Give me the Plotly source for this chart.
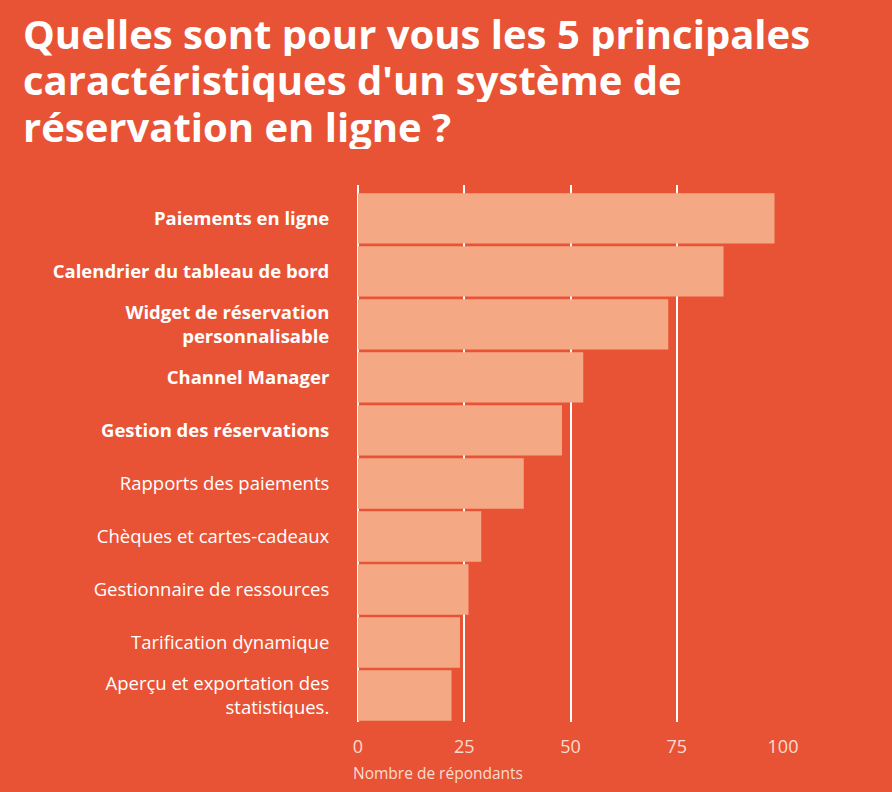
import plotly.graph_objects as go

categories = [
    "<b>Paiements en ligne</b>",
    "<b>Calendrier du tableau de bord</b>",
    "<b>Widget de réservation<br>personnalisable</b>",
    "<b>Channel Manager</b>",
    "<b>Gestion des réservations</b>",
    "Rapports des paiements",
    "Chèques et cartes-cadeaux",
    "Gestionnaire de ressources",
    "Tarification dynamique",
    "Aperçu et exportation des<br>statistiques.",
]
values = [98, 86, 73, 53, 48, 39, 29, 26, 24, 22]
x_ticks = [0, 25, 50, 75, 100]
title_lines = [
    "Quelles sont pour vous les 5 principales",
    "caractéristiques d'un système de",
    "réservation en ligne ?",
]

BG = "#E85336"
BAR = "#F4A984"
LIGHT = "#FBDCCF"

fig = go.Figure(go.Bar(
    x=values, y=categories, orientation="h",
    marker=dict(color=BAR, line=dict(width=0)),
    hoverinfo="skip",
))

W, H = 892, 792
left, right, top, bottom = 358, 109, 185, 70
plot_w = W - left - right
plot_h = H - top - bottom


def px_to_paper_x(px):
    return (px - left) / plot_w


def px_to_paper_y(py):
    return 1 + (top - py) / plot_h


annotations = []
for i, line in enumerate(title_lines):
    annotations.append(dict(
        text="<b>" + line + "</b>",
        xref="paper", yref="paper",
        x=px_to_paper_x(21), y=px_to_paper_y(33 + i * 46.5),
        xanchor="left", yanchor="middle",
        height=46, valign="middle",
        showarrow=False,
        font=dict(family="Open Sans", size=40, color="white"),
    ))

annotations.append(dict(
    text="Nombre de répondants",
    xref="paper", yref="paper",
    x=px_to_paper_x(351), y=0, xanchor="left", yanchor="top",
    yshift=-38,
    showarrow=False,
    font=dict(family="Open Sans", size=15.5, color=LIGHT),
))

fig.update_layout(
    width=W, height=H,
    paper_bgcolor=BG, plot_bgcolor=BG,
    margin=dict(l=left, r=right, t=top, b=bottom, pad=0),
    bargap=0.05,
    showlegend=False,
    font=dict(family="Open Sans", color="white"),
    xaxis=dict(
        range=[0, 100],
        tickvals=x_ticks,
        ticktext=[str(v) for v in x_ticks],
        showgrid=True, gridcolor="white", gridwidth=1.5,
        zeroline=True, zerolinecolor="white", zerolinewidth=1.5,
        showline=False,
        tickfont=dict(family="Open Sans", size=18, color=LIGHT),
        ticks="outside", ticklen=8, tickcolor="rgba(0,0,0,0)",
        fixedrange=True,
    ),
    yaxis=dict(
        categoryorder="array", categoryarray=categories,
        range=[9.5, -0.63],
        showgrid=False, zeroline=False, showline=False,
        tickfont=dict(family="Open Sans", size=18.5, color="white"),
        ticks="outside", ticklen=24, tickcolor="rgba(0,0,0,0)",
        fixedrange=True,
    ),
    annotations=annotations,
)

fig.write_html(
    "out.html",
    config={"displayModeBar": False},
    post_script="document.body.style.margin='0';document.body.style.background='%s';" % BG,
)
